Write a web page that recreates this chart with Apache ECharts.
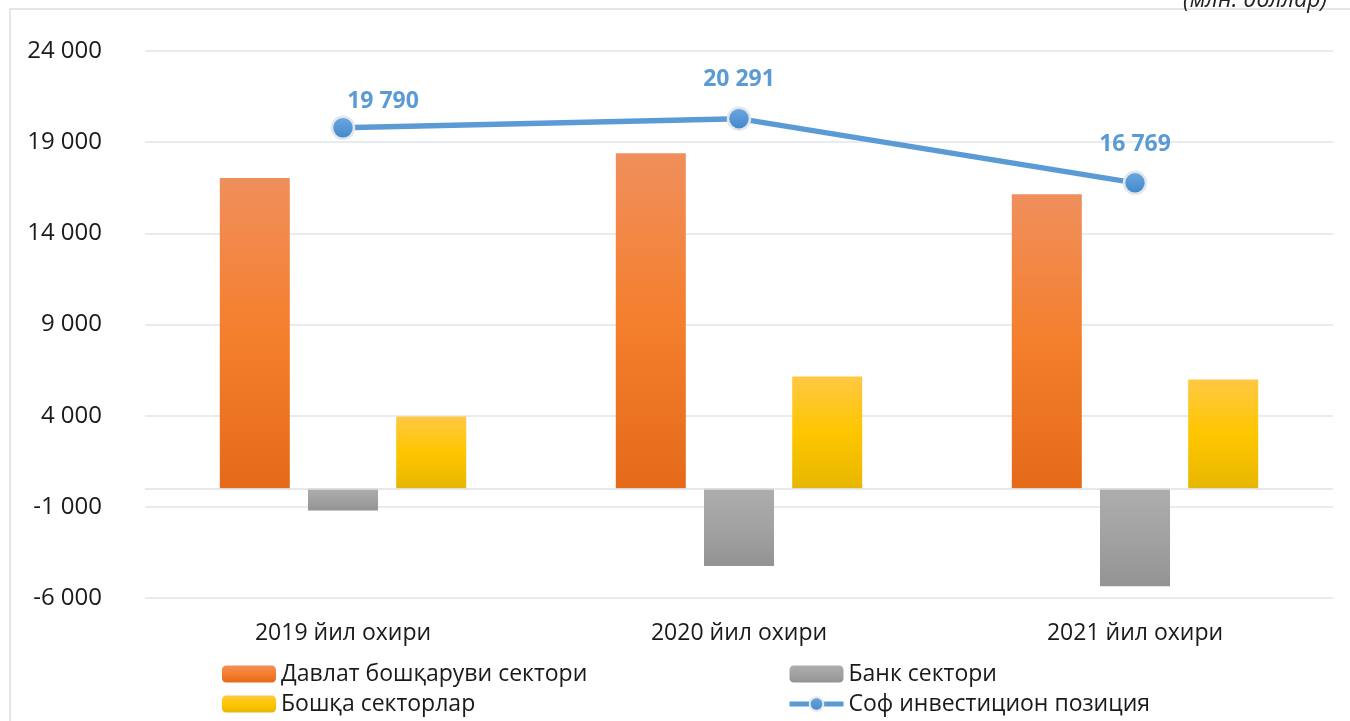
<!DOCTYPE html>
<html>
<head>
<meta charset="utf-8">
<script src="https://cdn.jsdelivr.net/npm/echarts@6/dist/echarts.min.js"></script>
<style>
  html, body { margin: 0; padding: 0; background: #fff; }
  #chart { width: 1350px; height: 721px; }
</style>
</head>
<body>
<div id="chart"></div>
<script>
// категориялар ва қийматлар (млн. доллар)
var categories = ['2019 йил охири', '2020 йил охири', '2021 йил охири'];
var govSector = [17040, 18390, 16140];
var bankSector = [-1200, -4250, -5350];
var otherSectors = [3950, 6151, 5979];
var netPosition = [19790, 20291, 16769];
var seriesNames = ['Давлат бошқаруви сектори', 'Банк сектори', 'Бошқа секторлар', 'Соф инвестицион позиция'];

var FONT = '"Open Sans", "Noto Sans", sans-serif';
var LINE_COLOR = '#5B9BD5';

function fmt(v) {
    var s = Math.abs(v).toString().replace(/\B(?=(\d{3})+(?!\d))/g, ' ');
    return (v < 0 ? '-' : '') + s;
}

function grad(top, mid, bottom) {
    return new echarts.graphic.LinearGradient(0, 0, 0, 1, [
        { offset: 0, color: top },
        { offset: 0.5, color: mid },
        { offset: 1, color: bottom }
    ]);
}

function legendItem(name) {
    var item = { name: name };
    if (name === seriesNames[3]) {
        item.lineStyle = { width: 5, color: LINE_COLOR };
        item.itemStyle = { borderColor: '#E3E6EA', borderWidth: 2 };
    }
    return item;
}

function makeLegend(left, names) {
    return {
        orient: 'vertical',
        left: left,
        top: 662,
        padding: 0,
        itemWidth: 54,
        itemHeight: 17,
        itemGap: 6,
        selectedMode: false,
        data: names.map(legendItem),
        textStyle: { fontSize: 23, lineHeight: 24, color: '#1a1a1a', fontFamily: FONT }
    };
}

var chart = echarts.init(document.getElementById('chart'));

var lineData = netPosition.map(function (v, i) {
    var item = { value: v };
    if (i === 0) {
        item.label = { offset: [40, 12] };   // биринчи ёрлиқ ўнгроқда
    }
    return item;
});

chart.setOption({
    backgroundColor: '#fff',
    animation: false,
    textStyle: { fontFamily: FONT },
    title: {
        text: '(млн. доллар)',
        right: 18,
        top: -16,
        textStyle: { fontSize: 23, fontStyle: 'italic', fontWeight: 'normal', color: '#222', fontFamily: FONT }
    },
    graphic: [{
        type: 'rect',
        silent: true,
        z: -1,
        shape: { x: 10, y: 9, width: 1400, height: 800 },
        style: { fill: 'none', stroke: '#D9DEE8', lineWidth: 1.5 }
    }],
    legend: [
        makeLegend(222, [seriesNames[0], seriesNames[2]]),
        makeLegend(787, [seriesNames[1], seriesNames[3]])
    ],
    grid: {
        left: 145,
        right: 17,
        top: 51,
        bottom: 123
    },
    xAxis: {
        type: 'category',
        data: categories,
        axisLine: { show: false, onZero: false },
        axisTick: { show: false },
        axisLabel: { fontSize: 23, color: '#1a1a1a', margin: 24, fontFamily: FONT }
    },
    yAxis: {
        type: 'value',
        min: -6000,
        max: 24000,
        interval: 5000,
        axisLine: { show: false },
        axisTick: { show: false },
        splitLine: { lineStyle: { color: '#E1E5EB', width: 1.5 } },
        axisLabel: {
            fontSize: 24,
            color: '#1a1a1a',
            margin: 43,
            fontFamily: FONT,
            formatter: fmt
        }
    },
    series: [{
        name: seriesNames[0],
        type: 'bar',
        data: govSector,
        barWidth: 70,
        barGap: '26%',
        itemStyle: { color: grad('#F08F5C', '#F47F2D', '#E46A18') },
        markLine: {
            silent: true,
            symbol: 'none',
            label: { show: false },
            lineStyle: { color: '#DDE1E8', width: 1.5, type: 'solid' },
            data: [{ yAxis: 0 }]
        }
    }, {
        name: seriesNames[1],
        type: 'bar',
        data: bankSector,
        barWidth: 70,
        barGap: '26%',
        itemStyle: { color: grad('#ADADAD', '#A2A2A2', '#939393') }
    }, {
        name: seriesNames[2],
        type: 'bar',
        data: otherSectors,
        barWidth: 70,
        barGap: '26%',
        itemStyle: { color: grad('#FFC843', '#FFC600', '#E6B700') }
    }, {
        name: seriesNames[3],
        type: 'line',
        data: lineData,
        symbol: 'circle',
        symbolSize: 22,
        z: 5,
        lineStyle: { color: LINE_COLOR, width: 5.5 },
        itemStyle: {
            color: new echarts.graphic.LinearGradient(0, 0, 0, 1, [
                { offset: 0, color: '#6FA9DF' },
                { offset: 1, color: '#3F86CC' }
            ]),
            borderColor: '#E3E6EA',
            borderWidth: 2.5
        },
        label: {
            show: true,
            position: 'top',
            distance: 15,
            fontSize: 23,
            fontWeight: 'bold',
            color: LINE_COLOR,
            fontFamily: FONT,
            formatter: function (p) { return fmt(p.value); }
        }
    }]
});
</script>
</body>
</html>
